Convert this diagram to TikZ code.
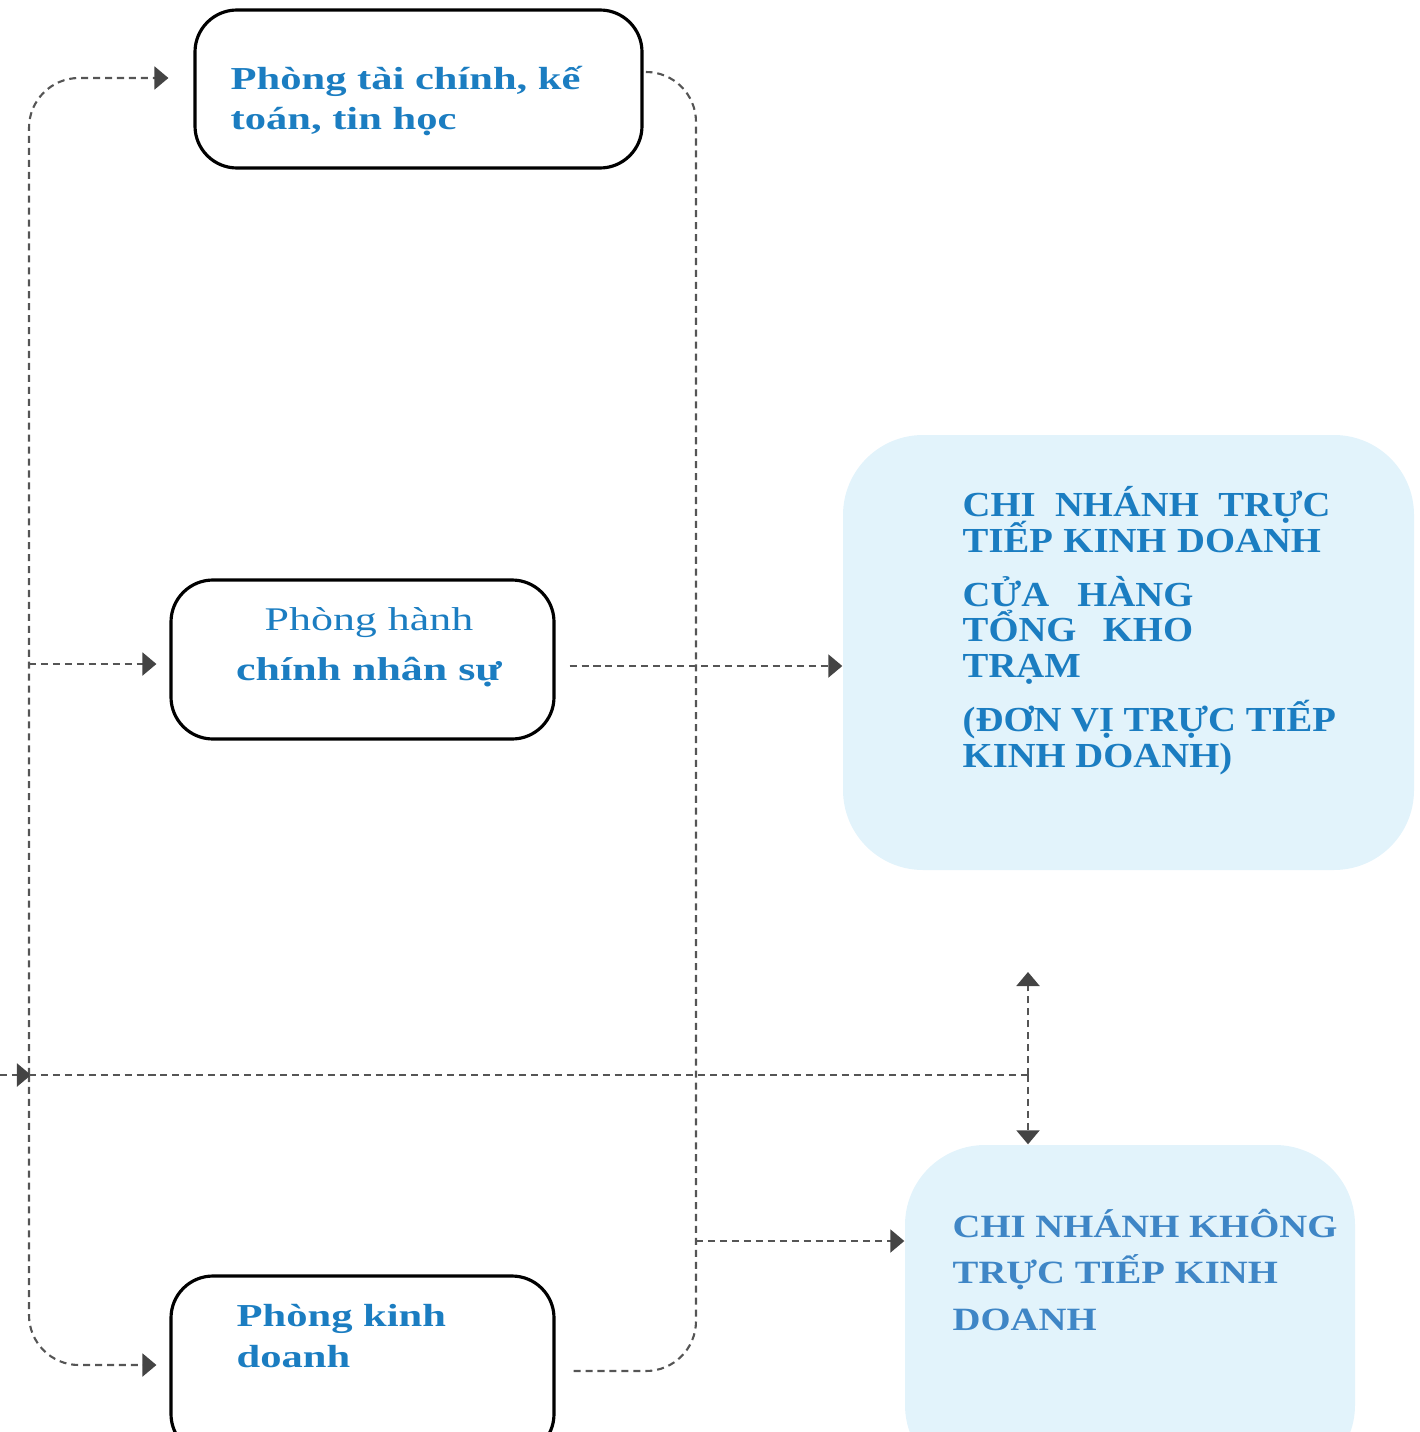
\documentclass[tikz,border=0pt]{standalone}
\usepackage{fontspec}
\setmainfont{Liberation Serif}
\newfontfamily\deptfont[FakeStretch=1.33]{Liberation Serif}
\newfontfamily\branchfont[FakeStretch=1.10]{Liberation Serif}
\newfontfamily\branchfontb[FakeStretch=1.19]{Liberation Serif}
\usetikzlibrary{arrows.meta}
\definecolor{txtblue}{HTML}{1B7DC1}
\definecolor{txtblueb}{HTML}{3F86C6}
\definecolor{boxfill}{HTML}{E2F3FB}
\definecolor{linegray}{HTML}{555555}
\definecolor{tipgray}{HTML}{444444}
\lineskiplimit=-20pt
\tikzset{dept/.style={draw=black,line width=0.9pt,rounded corners=0.42cm,inner sep=0pt},
  branch/.style={fill=boxfill,rounded corners=0.8cm,inner sep=0pt},
  dline/.style={draw=linegray,line width=0.6pt,dash pattern=on 2pt off 1.4pt},
  tip/.style={-{Triangle[length=0.14cm,width=0.23cm,color=tipgray]}},
  depttext/.style={text=txtblue,font=\deptfont\fontsize{9.1}{11.4}\selectfont\bfseries,inner sep=0pt},
  branchtext/.style={text=txtblue,font=\branchfont\fontsize{10}{10.2}\selectfont\bfseries,align=left,inner sep=0pt,anchor=base west}}

\begin{document}
\begin{tikzpicture}
        \useasboundingbox (0,0) rectangle (14.19,-14.32);
        \clip (0,0) rectangle (14.19,-14.32);
        % cac phong ban
        \node[dept,minimum width=4.47cm,minimum height=1.58cm] (taichinh) at (4.185,-0.89) {};
        \node[dept,minimum width=3.83cm,minimum height=1.59cm] (nhansu) at (3.625,-6.595) {};
        \node[dept,minimum width=3.83cm,minimum height=1.80cm] (kinhdoanh) at (3.625,-13.66) {};
        % chi nhanh
        \node[branch,minimum width=5.71cm,minimum height=4.35cm] (cntructiep) at (11.285,-6.525) {};
        \node[branch,minimum width=4.50cm,minimum height=3.40cm] (cnkhong) at (11.30,-13.15) {};
        % chu
        \node[depttext,align=left,anchor=base west] (ttaichinh) at (2.30,-1.30) {Phòng tài chính, kế\\toán, tin học};
        \node[depttext,align=center,anchor=base,font=\deptfont\fontsize{9.4}{14.2}\selectfont] (tnhansu) at (3.69,-6.80) {Phòng hành\\\bfseries chính nhân sự};
        \node[depttext,align=left,anchor=base west] (tkinhdoanh) at (2.36,-13.67) {Phòng kinh\\doanh};
        \node[branchtext] (ttructiep) at (9.62,-7.67) {CHI\hspace{0.55em}NHÁNH\hspace{0.55em}TRỰC\\TIẾP\hspace{0.3em}KINH\hspace{0.3em}DOANH\\[5pt]
          CỬA\hspace{0.8em}HÀNG\\TỔNG\hspace{0.75em}KHO\\TRẠM\\[5pt](ĐƠN VỊ TRỰC TIẾP\\KINH DOANH)};
        \node[branchtext,text=txtblueb,font=\branchfontb\fontsize{9.25}{13.2}\selectfont\bfseries] (tkhong) at (9.52,-13.30) {CHI NHÁNH KHÔNG\\TRỰC TIẾP KINH\\DOANH};
        % duong noi
        \coordinate (railL) at (0.29,-10.75);
        \coordinate (railR) at (6.96,-6.66);
        \coordinate (hub) at (10.28,-10.75);
        \coordinate (wL) at (0,-10.75);
        \coordinate (upT) at (10.28,-9.72);
        \coordinate (jb) at (6.96,-12.41);
        \draw[dline,tip,rounded corners=0.5cm,shorten >=0.25cm] (railL) |- ([yshift=0.11cm]taichinh.west);
        \draw[dline,tip,rounded corners=0.5cm,shorten >=0.13cm] (railL) |- ([yshift=0.01cm]kinhdoanh.west);
        \draw[dline,tip,shorten >=0.13cm] (railL |- 0,-6.64) -- (railL |- 0,-6.64 -| nhansu.west);
        \draw[dline,rounded corners=0.5cm] ([xshift=0.03cm,yshift=0.17cm]taichinh.east) -| (railR) |- ([xshift=0.16cm,yshift=-0.05cm]kinhdoanh.east);
        \draw[dline,tip] ([xshift=0.14cm]nhansu.east |- railR) -- (railR -| cntructiep.west);
        \draw[dline,tip] (jb) -- (jb -| cnkhong.west);
        \draw[dline,tip,shorten >=-0.02cm] (wL) -- (railL);
        \draw[dline] (railL) -- (hub);
        \draw[dline,tip] (hub) -- (upT);
        \draw[dline,tip] (hub) -- (cnkhong.north -| hub);
\end{tikzpicture}
\end{document}
